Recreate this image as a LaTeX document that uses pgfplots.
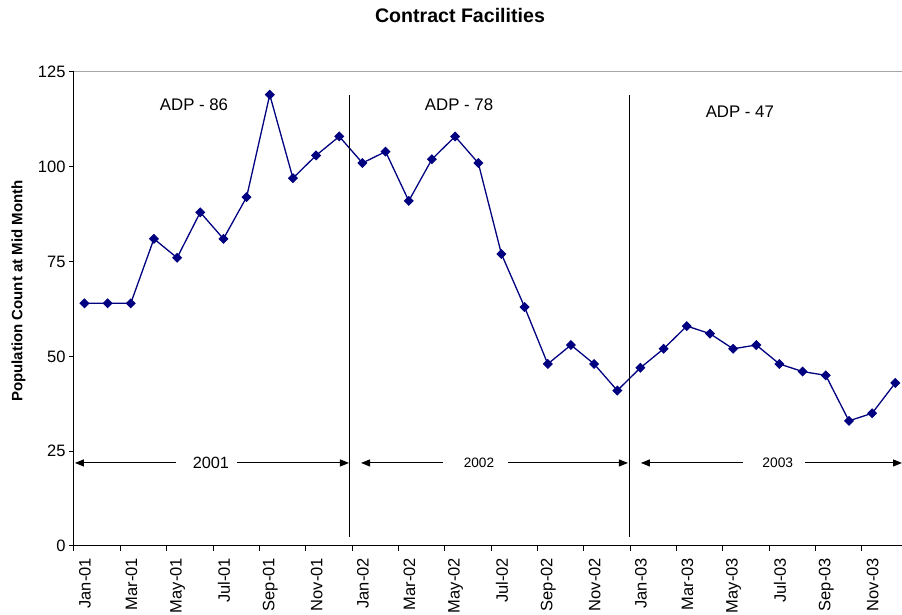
\documentclass[border=0pt]{standalone}
\usepackage{fontspec}
\setmainfont{Liberation Sans}
\usepackage{pgfplots}
\pgfplotsset{compat=1.18}
\usetikzlibrary{arrows.meta}
\definecolor{navyline}{HTML}{000080}
\begin{document}
\begin{tikzpicture}
\useasboundingbox (-74pt,-69pt) rectangle (828pt,546pt);
\begin{axis}[
  at={(0pt,0pt)}, anchor=south west,
  scale only axis, width=828pt, height=474pt,
  xmin=0, xmax=35.74, ymin=0, ymax=125,
  axis lines*=left,
  axis line style={black, line width=1pt},
  xtick={0,2,...,34},
  xticklabels={Jan-01,Mar-01,May-01,Jul-01,Sep-01,Nov-01,Jan-02,Mar-02,May-02,Jul-02,Sep-02,Nov-02,Jan-03,Mar-03,May-03,Jul-03,Sep-03,Nov-03},
  ytick={0,25,...,125},
  tick align=outside, major tick length=5pt,
  tick style={black, line width=1pt},
  tick label style={font=\fontsize{16.5}{19}\selectfont},
  x tick label style={xshift=11pt, yshift=-3.5pt, rotate=90, anchor=east},
  /pgf/number format/assume math mode=true,
  clip=false,
]
\draw[gray!70, line width=1pt] (rel axis cs:0,1) -- (rel axis cs:1,1);
\addplot[navyline, line width=1.3pt, mark=square*, mark size=2.9pt,
  mark options={fill=navyline, draw=navyline, solid, rotate=45}] table {
x y
0.45 64
1.45 64
2.45 64
3.45 81
4.45 76
5.45 88
6.45 81
7.45 92
8.45 119
9.45 97
10.45 103
11.45 108
12.45 101
13.45 104
14.45 91
15.45 102
16.45 108
17.45 101
18.45 77
19.45 63
20.45 48
21.45 53
22.45 48
23.45 41
24.45 47
25.45 52
26.45 58
27.45 56
28.45 52
29.45 53
30.45 48
31.45 46
32.45 45
33.45 33
34.45 35
35.45 43
};
% year separators
\draw[black, line width=1pt] (axis cs:11.9,2.4) -- (axis cs:11.9,118.9);
\draw[black, line width=1pt] (axis cs:23.98,2.4) -- (axis cs:23.98,118.9);
% ADP labels
\node[font=\fontsize{16.8}{19}\selectfont] at (axis cs:5.18,116.3) {ADP - 86};
\node[font=\fontsize{16.8}{19}\selectfont] at (axis cs:16.62,116.3) {ADP - 78};
\node[font=\fontsize{16.8}{19}\selectfont] at (axis cs:28.74,114.5) {ADP - 47};
% year arrows
\draw[black, line width=1pt, {Triangle[length=9pt,width=7pt]}-] (axis cs:0.04,21.9) -- (axis cs:4.40,21.9);
\draw[black, line width=1pt, -{Triangle[length=9pt,width=7pt]}] (axis cs:7.03,21.9) -- (axis cs:11.87,21.9);
\node[font=\fontsize{16.3}{19}\selectfont] at (axis cs:5.91,21.9) {2001};
\draw[black, line width=1pt, {Triangle[length=9pt,width=7pt]}-] (axis cs:12.39,21.9) -- (axis cs:15.93,21.9);
\draw[black, line width=1pt, -{Triangle[length=9pt,width=7pt]}] (axis cs:18.73,21.9) -- (axis cs:23.91,21.9);
\node[font=\fontsize{13.6}{16}\selectfont] at (axis cs:17.48,21.9) {2002};
\draw[black, line width=1pt, {Triangle[length=9pt,width=7pt]}-] (axis cs:24.47,21.9) -- (axis cs:28.87,21.9);
\draw[black, line width=1pt, -{Triangle[length=9pt,width=7pt]}] (axis cs:31.55,21.9) -- (axis cs:35.74,21.9);
\node[font=\fontsize{13.8}{16}\selectfont] at (axis cs:30.38,21.9) {2003};
% y label and title
\node[rotate=90, font=\bfseries\fontsize{15}{18}\selectfont] at (axis cs:-2.40,67.2) {Population Count at Mid Month};
\node[font=\bfseries\fontsize{19.6}{23}\selectfont] at (axis cs:16.66,139.8) {Contract Facilities};
\end{axis}
\end{tikzpicture}
\end{document}
